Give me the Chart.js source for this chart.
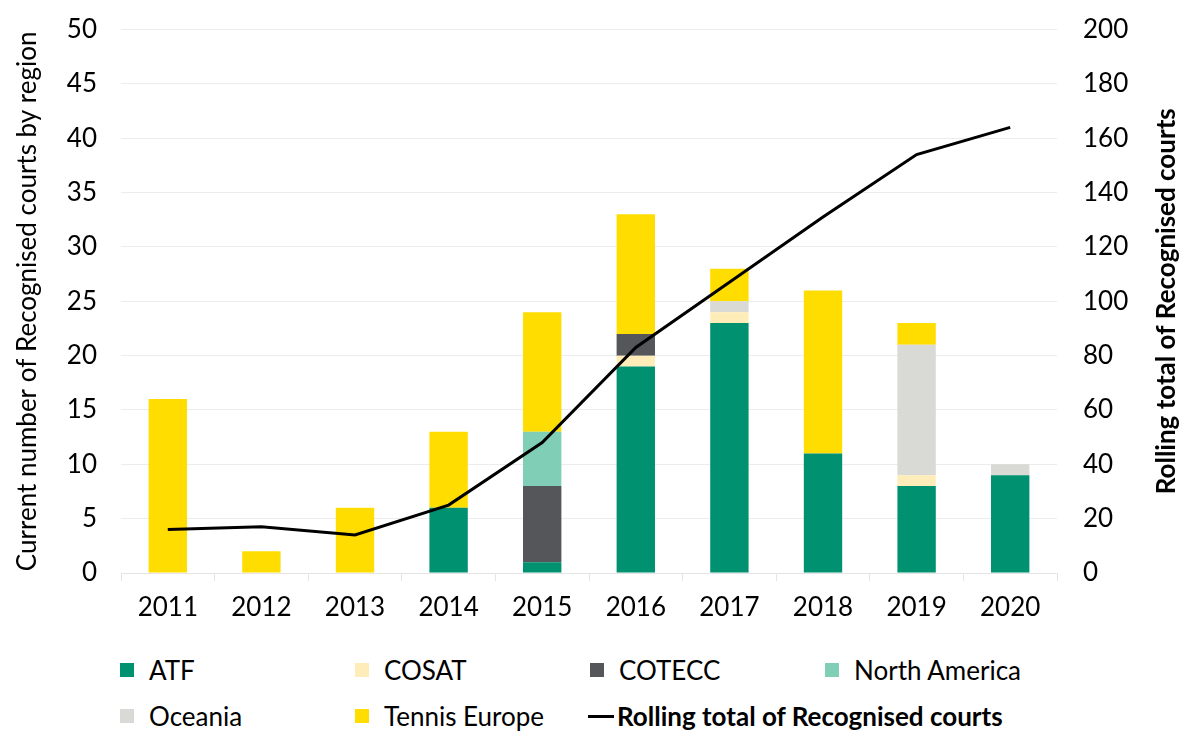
<!DOCTYPE html>
<html>
<head>
<meta charset="utf-8">
<script src="https://cdn.jsdelivr.net/npm/chart.js@4"></script>
<style>
  html,body{margin:0;padding:0;background:#fff;overflow:hidden;}
  #wrap{position:relative;width:1192px;height:741px;font-family:Lato, sans-serif;overflow:hidden;}
  #cwrap{position:absolute;left:0;top:-12px;width:1192px;height:653px;}
  .lg{position:absolute;font-family:Lato, sans-serif;font-size:26px;color:#000;line-height:26px;white-space:nowrap;}
  .sw{position:absolute;width:14px;height:14px;}
  .ln{position:absolute;width:26px;height:3px;background:#000;}
</style>
</head>
<body>
<div id="wrap">
  <div id="cwrap"><canvas id="c"></canvas></div>
  <div id="legend"></div>
</div>
<script>
const years = ['2011','2012','2013','2014','2015','2016','2017','2018','2019','2020'];
const atf          = [0, 0, 0, 6, 1, 19, 23, 11, 8, 9];
const cosat        = [0, 0, 0, 0, 0, 1, 1, 0, 1, 0];
const cotecc       = [0, 0, 0, 0, 7, 2, 0, 0, 0, 0];
const northAmerica = [0, 0, 0, 0, 5, 0, 0, 0, 0, 0];
const oceania      = [0, 0, 0, 0, 0, 0, 1, 0, 12, 1];
const tennisEurope = [16, 2, 6, 7, 11, 11, 3, 15, 2, 0];
const rollingTotal = [16, 17, 14, 25, 48, 83, 107, 131, 154, 164];
const leftTicks = [0,5,10,15,20,25,30,35,40,45,50];
const rightTicks = [0,20,40,60,80,100,120,140,160,180,200];

const colors = {
  'ATF':'#009170', 'COSAT':'#FFEDB9', 'COTECC':'#55565A',
  'North America':'#80CEB6', 'Oceania':'#D9DAD5', 'Tennis Europe':'#FFDD00'
};
const series = [
  ['ATF', atf], ['COSAT', cosat], ['COTECC', cotecc],
  ['North America', northAmerica], ['Oceania', oceania], ['Tennis Europe', tennisEurope]
];
const lineLabel = 'Rolling total of Recognised courts';

const datasets = series.map(([name, vals]) => ({
  type:'bar', label:name, data:vals, backgroundColor:colors[name],
  borderWidth:0, yAxisID:'y', stack:'s', order:1,
  categoryPercentage:1.0, barPercentage:0.41
}));
datasets.push({
  type:'line', label:lineLabel, data:rollingTotal, yAxisID:'y1',
  borderColor:'#000', borderWidth:3, pointRadius:0, tension:0, fill:false, order:0
});

const rightTitle = {
  id:'rightTitle',
  afterDraw(chart){
    const ctx = chart.ctx;
    ctx.save();
    ctx.translate(1167, (chart.chartArea.top + chart.chartArea.bottom)/2);
    ctx.rotate(-Math.PI/2);
    ctx.font = 'bold 26px Lato';
    ctx.fillStyle = '#000';
    ctx.textAlign = 'center';
    ctx.textBaseline = 'middle';
    ctx.fillText(lineLabel, 0, 0);
    ctx.restore();
  }
};

Chart.defaults.font.family = 'Lato';
Chart.defaults.font.size = 26;
Chart.defaults.color = '#000';

new Chart(document.getElementById('c'), {
  data:{labels:years, datasets},
  options:{
    responsive:true, maintainAspectRatio:false, animation:false,
    layout:{padding:{top:3,left:0,right:0,bottom:0}},
    plugins:{legend:{display:false}, tooltip:{enabled:false}},
    scales:{
      x:{
        stacked:true,
        grid:{display:true, drawOnChartArea:false, drawTicks:true, tickLength:8, color:'#e4e4e4', offset:true},
        border:{display:true, color:'#e4e4e4', width:1},
        ticks:{padding:11, font:{size:26}, color:'#000'},
        afterFit(s){ s.height = 68; }
      },
      y:{
        stacked:true, position:'left', min:0, max:50,
        afterBuildTicks(s){ s.ticks = leftTicks.map(v=>({value:v})); },
        grid:{color:'#ececec', drawTicks:false, lineWidth:1},
        border:{display:false},
        ticks:{padding:24, font:{size:26}, color:'#000'},
        title:{display:true, text:'Current number of Recognised courts by region', font:{size:26}, color:'#000', padding:{top:12,bottom:0}},
        afterFit(s){ s.width = 121; }
      },
      y1:{
        position:'right', min:0, max:200, stacked:false,
        afterBuildTicks(s){ s.ticks = rightTicks.map(v=>({value:v})); },
        grid:{display:false, drawTicks:false},
        border:{display:false},
        ticks:{padding:26, font:{size:26}, color:'#000'},
        afterFit(s){ s.width = 1192-1057; }
      }
    }
  },
  plugins:[rightTitle]
});

// HTML legend
const lg = document.getElementById('legend');
const cols = [120, 355, 590, 825];
const rows = [670, 716];
const items = series.map(([n])=>({name:n, type:'box'}));
items.push({name:lineLabel, type:'line'});
items.forEach((it, i) => {
  const cx = cols[i % 4], cy = rows[Math.floor(i / 4)];
  if (it.type === 'box') {
    const s = document.createElement('div');
    s.className = 'sw'; s.style.left = cx+'px'; s.style.top = (cy-7)+'px';
    s.style.background = colors[it.name];
    lg.appendChild(s);
    const t = document.createElement('div');
    t.className = 'lg'; t.textContent = it.name;
    t.style.left = (cx+29)+'px'; t.style.top = (cy-13)+'px';
    lg.appendChild(t);
  } else {
    const l = document.createElement('div');
    l.className = 'ln'; l.style.left = (cx-2)+'px'; l.style.top = (cy-1)+'px';
    lg.appendChild(l);
    const t = document.createElement('div');
    t.className = 'lg'; t.textContent = it.name; t.style.fontWeight = 'bold';
    t.style.left = (cx+27)+'px'; t.style.top = (cy-13)+'px';
    lg.appendChild(t);
  }
});
</script>
</body>
</html>
